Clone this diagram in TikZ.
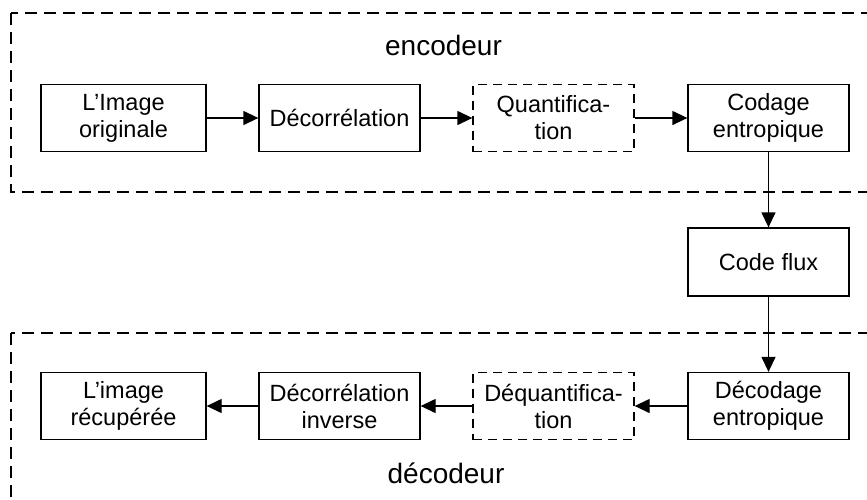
\documentclass[tikz,border=0pt]{standalone}
\usepackage{fontspec}
\setmainfont{Liberation Sans}
\usetikzlibrary{arrows.meta}
\begin{document}
\begin{tikzpicture}[x=1pt,y=-1pt,
  blk/.style={draw, line width=1.3pt, rectangle, minimum width=161pt, minimum height=67pt,
    inner sep=0pt, align=center, font=\fontsize{23.5}{27}\selectfont},
  wideblk/.style={blk, minimum width=165pt},
  dashblk/.style={blk, dash pattern=on 9pt off 6pt},
  group/.style={line width=1.3pt, dash pattern=on 12pt off 7pt},
  grouplabel/.style={anchor=base, font=\fontsize{28}{30}\selectfont, inner sep=0pt},
  arr/.style={line width=1.3pt, -{Triangle[length=15pt,width=14pt]}}]
\useasboundingbox (0,0) rectangle (867,499);
\clip (0,0) rectangle (867,499);
% groups
\draw[group] (11,13) rectangle (890,192);
\draw[group] (11,333) rectangle (890,520);
\node[grouplabel] (enc) at (443.5,55) {encodeur};
\node[grouplabel] (dec) at (446,483) {décodeur};
% encoder
\node[wideblk] (a) at (123.5,118) {L’Image\\originale};
\node[blk] (b) at (339.5,118) {Décorrélation};
\node[dashblk] (c) at (553.5,118) {Quantifica-\\tion};
\node[blk] (d) at (768.5,118) {Codage\\entropique};
% flux
\node[blk, minimum height=68pt] (f) at (768.5,262) {Code flux};
% decoder
\node[blk] (g) at (768.5,406) {Décodage\\entropique};
\node[dashblk] (h) at (553.5,406) {Déquantifica-\\tion};
\node[blk] (i) at (339.5,406) {Décorrélation\\inverse};
\node[wideblk] (j) at (123.5,406) {L’image\\récupérée};
% connectors
\draw[arr] (a) -- (b);
\draw[arr] (b) -- (c);
\draw[arr] (c) -- (d);
\draw[arr] (d) -- (f);
\draw[arr] (f) -- (g);
\draw[arr] (g) -- (h);
\draw[arr] (h) -- (i);
\draw[arr] (i) -- (j);
\end{tikzpicture}
\end{document}
